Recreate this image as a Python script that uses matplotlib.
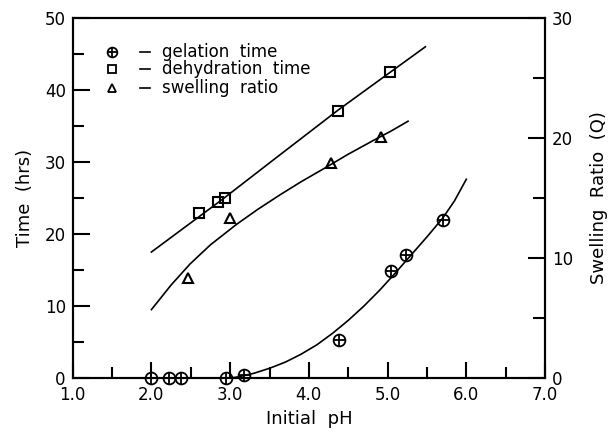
import matplotlib
matplotlib.use("Agg")
import matplotlib.pyplot as plt

# measured points
gel_ph = [2.0, 2.22, 2.37, 2.95, 3.18, 4.38, 5.04, 5.24, 5.71]
gel_t = [0.0, 0.0, 0.0, 0.0, 0.4, 5.3, 14.8, 17.1, 22.0]
dehy_ph = [2.61, 2.84, 2.94, 4.37, 5.03]
dehy_t = [22.9, 24.4, 25.0, 37.1, 42.5]
swell_ph = [2.47, 3.0, 4.28, 4.92]
swell_q = [8.3, 13.3, 17.9, 20.1]

# fitted curves
gel_fit_ph = [2.5, 2.7, 2.9, 3.1, 3.3, 3.5, 3.7, 3.9, 4.1, 4.3, 4.5, 4.7,
              4.9, 5.1, 5.3, 5.5, 5.7, 5.85, 6.0]
gel_fit_t = [0.0, -0.2, -0.15, 0.15, 0.65, 1.35, 2.2, 3.3, 4.6, 6.2, 8.0, 10.0,
             12.2, 14.6, 17.1, 19.6, 22.2, 24.6, 27.6]
dehy_fit_ph = [2.0, 2.9, 3.55, 4.37, 5.0, 5.48]
dehy_fit_t = [17.5, 24.8, 30.3, 37.2, 42.2, 46.0]
swell_fit_ph = [2.0, 2.25, 2.49, 2.75, 3.08, 3.35, 3.63, 3.9, 4.23, 4.5, 4.82, 5.05, 5.26]
swell_fit_q = [5.7, 7.75, 9.5, 11.1, 12.8, 14.05, 15.25, 16.35, 17.6, 18.65, 19.8, 20.6, 21.4]

x_ticks = [1.0, 2.0, 3.0, 4.0, 5.0, 6.0, 7.0]
legend_labels = ["gelation  time", "dehydration  time", "swelling  ratio"]

fig = plt.figure(figsize=(6.08, 4.36), dpi=100)
ax = fig.add_axes([0.1196, 0.133, 0.7768, 0.8257])
ax2 = ax.twinx()

lw = 1.2
ax.plot(gel_fit_ph, gel_fit_t, color="black", lw=lw)
ax.plot(dehy_fit_ph, dehy_fit_t, color="black", lw=lw)
ax2.plot(swell_fit_ph, swell_fit_q, color="black", lw=lw)

ms = 8.5
ax.plot(gel_ph, gel_t, "o", ms=ms, mfc="none", mec="black", mew=1.3, clip_on=False, zorder=5)
ax.plot(gel_ph, gel_t, "+", ms=ms, mec="black", mew=1.3, clip_on=False, zorder=5)
ax.plot(dehy_ph, dehy_t, "s", ms=7.5, mfc="none", mec="black", mew=1.5, zorder=5)
ax2.plot(swell_ph, swell_q, "^", ms=7.5, mfc="none", mec="black", mew=1.5, zorder=5)

ax.set_xlim(1.0, 7.0)
ax.set_ylim(0, 50)
ax2.set_ylim(0, 30)

ax.set_xticks(x_ticks)
ax.set_xticklabels(["%.1f" % v for v in x_ticks])
ax.set_xticks([1.5, 2.5, 3.5, 4.5, 5.5, 6.5], minor=True)
ax.set_yticks([0, 10, 20, 30, 40, 50])
ax.set_yticks([5, 15, 25, 35, 45], minor=True)
ax2.set_yticks([0, 10, 20, 30])
ax2.set_yticks([5, 15, 25], minor=True)

fs = 12
ax.tick_params(axis="x", which="major", direction="in", length=11.5, width=1.5, pad=6, labelsize=fs, top=False)
ax.tick_params(axis="x", which="minor", direction="in", length=8, width=1.5, top=False)
ax.tick_params(axis="y", which="major", direction="in", length=12, width=1.5, pad=5, labelsize=fs, right=False)
ax.tick_params(axis="y", which="minor", direction="in", length=8, width=1.5, right=False)
ax2.tick_params(axis="y", which="major", direction="in", length=12, width=1.5, pad=5, labelsize=fs)
ax2.tick_params(axis="y", which="minor", direction="in", length=8.5, width=1.5)

for a in (ax, ax2):
    for s in a.spines.values():
        s.set_linewidth(1.5)

ax.set_xlabel("Initial  pH", fontsize=13, labelpad=4)
ax.set_ylabel("Time  (hrs)", fontsize=13, labelpad=8)
ax2.set_ylabel("Swelling  Ratio  (Q)", fontsize=13, labelpad=12, rotation=90)

# legend drawn by hand
rows_y = [0.906, 0.858, 0.806]
markers = [("o", "+"), ("s", None), ("^", None)]
for y, (m1, m2), lab in zip(rows_y, markers, legend_labels):
    ax.plot([0.083], [y], m1, ms=7 if m1 == "o" else 5.5, mfc="none", mec="black", mew=1.3,
            transform=ax.transAxes)
    if m2:
        ax.plot([0.083], [y], m2, ms=7, mec="black", mew=1.3, transform=ax.transAxes)
    ax.plot([0.143, 0.163], [y, y], color="black", lw=1.2, transform=ax.transAxes)
    ax.text(0.189, y, lab, fontsize=12, va="center", ha="left", transform=ax.transAxes)

fig.savefig("out.png", dpi=100)
